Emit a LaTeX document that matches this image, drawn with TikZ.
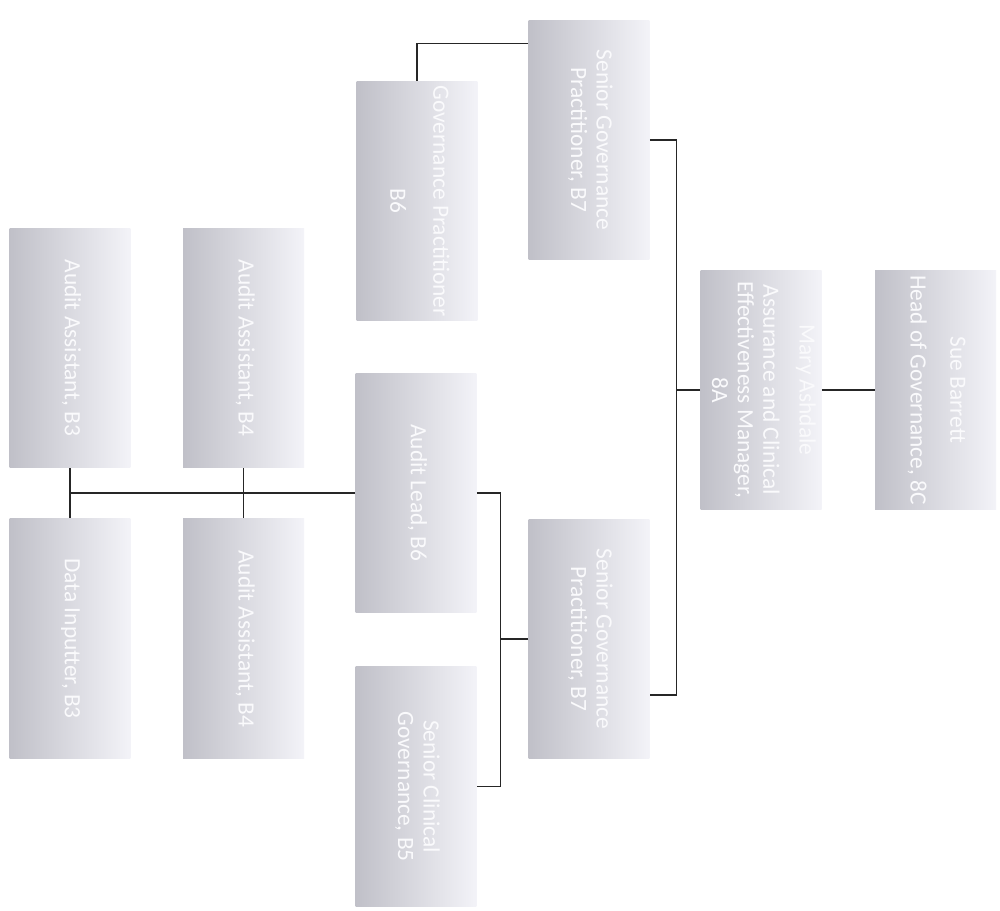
\documentclass[tikz,border=0pt]{standalone}
\usepackage{fontspec}
\setmainfont{Carlito}
\usetikzlibrary{positioning}
\definecolor{boxdark}{RGB}{192,192,200}
\definecolor{boxlight}{RGB}{243,243,248}
\definecolor{boxtext}{RGB}{250,250,252}
\tikzstyle{post} = [rectangle, left color=boxdark, right color=boxlight, text=boxtext, minimum width=2.42cm, minimum height=4.8cm, inner sep=0pt, font=\fontsize{13.3}{14.6}\selectfont]
\tikzstyle{link} = [draw, line width=0.7pt, black!85]
\newcommand{\vlabel}[1]{\rotatebox{-90}{\begin{tabular}{@{}c@{}}#1\end{tabular}}}

\begin{document}
\begin{tikzpicture}[x=0.02cm, y=-0.02cm]
    \fill[white] (0,0) rectangle (1000,911);
    % Place nodes
    \node [post] (aa3) at (70,348) {\vlabel{Audit Assistant, B3}};
    \node [post, right=1.04cm of aa3] (aa4a) {\vlabel{Audit Assistant, B4}};
    \node [post, below=1cm of aa3] (di) {\vlabel{Data Inputter, B3}};
    \node [post, below=1cm of aa4a] (aa4b) {\vlabel{Audit Assistant, B4}};

    \node [post] (lead) at (416,493) {\vlabel{Audit Lead, B6}};
    \node [post, below=1.06cm of lead] (scg) {\vlabel{Senior Clinical\\Governance, B5}};
    \node [post] (gp) at (417,201) {\vlabel{Governance Practitioner\\[10pt]B6}};

    \node [post] (sgpA) at (589,140) {\vlabel{Senior Governance\\Practitioner, B7}};
    \node [post] (sgpB) at (589,639) {\vlabel{Senior Governance\\Practitioner, B7}};

    \node [post] (mary) at (761,390) {\vlabel{Mary Ashdale\\[6pt]Assurance and Clinical\\Effectiveness Manager,\\8A}};
    \node [post, right=1.06cm of mary] (sue) {\vlabel{Sue Barrett\\[8pt]Head of Governance, 8C}};

    % Draw edges
    \coordinate (rbus) at (677,390);
    \path [link] ([yshift=-0.48cm]sgpA.north west) -| (gp.north);
    \path [link] (sgpA.east) -- ++(27,0) |- ([yshift=-1.12cm]sgpB.east);
    \path [link] (mary.west) -- (rbus);
    \path [link] (mary) -- (sue);
    \path [link] (lead.west) -- (lead.west -| aa3.south);
    \path [link] (aa3) -- (di);
    \path [link] (aa4a) -- (aa4b);
    \path [link] (lead.east) -- ++(24,0) coordinate (mbus) |- (scg.east);
    \path [link] (sgpB.west) -- (sgpB.west -| mbus);
\end{tikzpicture}
\end{document}
